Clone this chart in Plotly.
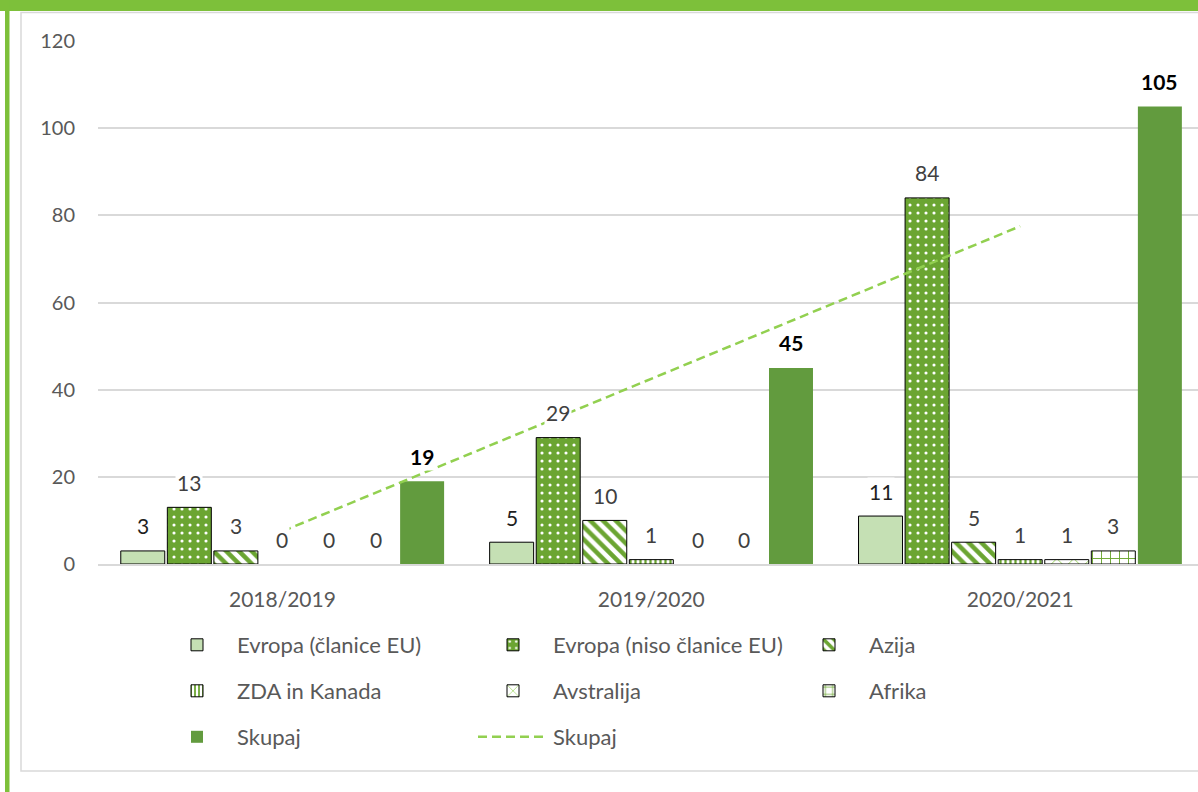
import plotly.graph_objects as go


seasons = ["2018/2019", "2019/2020", "2020/2021"]

evropa_eu = [3, 5, 11]
evropa_ne_eu = [13, 29, 84]
azija = [3, 10, 5]
zda_kanada = [0, 1, 1]
avstralija = [0, 0, 1]
afrika = [0, 0, 3]
skupaj = [19, 45, 105]
# linearni trend (odčitan s slike)
skupaj_trend = [7.5, 42.5, 77.5]

names = [
    "Evropa (članice EU)",
    "Evropa (niso članice EU)",
    "Azija",
    "ZDA in Kanada",
    "Avstralija",
    "Afrika",
    "Skupaj",
]

W, H = 1198, 792
ML, MR, MT, MB = 98, 0, 41, 228
PW = W - ML - MR
PH = H - MT - MB
FONT = "Lato"
GREEN = "#6BA532"
DARK = "#629B3E"
LIGHT = "#C5E0B4"
GRID = "#D9D9D9"
TEXT = "#595959"


def px2x(px):
    return (px - ML) / PW


def px2y(py):
    return (H - MB - py) / PH


def bar_style(shape, fg, bg, size=8, solidity=0.5, line=True):
    marker = dict(color=bg)
    if shape:
        marker["pattern"] = dict(shape=shape, fgcolor=fg, bgcolor=bg,
                                 size=size, solidity=solidity, fillmode="replace")
    marker["line"] = dict(color="black", width=1 if line else 0)
    return marker


series = [
    (evropa_eu, bar_style("", None, LIGHT), "legend"),
    (evropa_ne_eu, bar_style(".", "white", GREEN, size=8, solidity=0.12), "legend"),
    (azija, bar_style("\\", GREEN, "white", size=9, solidity=0.5), "legend"),
    (zda_kanada, bar_style("|", GREEN, "white", size=5, solidity=0.45), "legend2"),
    (avstralija, bar_style("x", "#92D050", "white", size=12, solidity=0.15), "legend2"),
    (afrika, bar_style("+", GREEN, "white", size=9, solidity=0.2), "legend2"),
    (skupaj, bar_style("", None, DARK, line=False), "legend3"),
]

fig = go.Figure()

for (vals, marker, leg), name in zip(series, names):
    fig.add_trace(go.Bar(
        x=seasons,
        # empty bars are not drawn (no outline at 0)
        y=[v if v else None for v in vals],
        name=name,
        marker=marker,
        legend=leg,
    ))

fig.add_trace(go.Scatter(
    x=seasons,
    y=skupaj_trend,
    mode="lines",
    name="Skupaj",
    line=dict(color="#92D050", width=2.5, dash="9px,5px"),
    legend="legend3",
))

# data labels above bars
x_range = [-0.5, 2.482]
cat_px = PW / (x_range[1] - x_range[0])
bargap = 0.1165
slot = cat_px * (1 - bargap) / len(names)
for i, ((vals, _, _), name) in enumerate(zip(series, names)):
    is_total = name == "Skupaj"
    for season, v in zip(seasons, vals):
        fig.add_annotation(
            x=season,
            y=v,
            text=f"<b>{v}</b>" if is_total else str(v),
            showarrow=False,
            xshift=(i - 3) * slot,
            yshift=25,
            bgcolor="white",
            font=dict(family=FONT, size=21,
                      color="black" if is_total else ("#1F1F1F" if i == 0 else "#404040")),
        )

# frame and green border
fig.add_shape(type="rect", xref="paper", yref="paper",
              x0=px2x(21), x1=px2x(1210), y0=px2y(771), y1=px2y(12.5),
              line=dict(color=GRID, width=1.5), fillcolor="rgba(0,0,0,0)", layer="below")
fig.add_shape(type="rect", xref="paper", yref="paper",
              x0=px2x(-2), x1=px2x(1210), y0=px2y(11), y1=px2y(-2),
              line=dict(width=0), fillcolor="#7DC03A")
fig.add_shape(type="rect", xref="paper", yref="paper",
              x0=px2x(5), x1=px2x(9.5), y0=px2y(795), y1=px2y(0),
              line=dict(width=0), fillcolor="#7DC03A")

legend_common = dict(
    orientation="h",
    x=px2x(157),
    xanchor="left",
    yanchor="middle",
    entrywidth=231,
    entrywidthmode="pixels",
    itemwidth=70,
    font=dict(family=FONT, size=22, color=TEXT),
    bgcolor="rgba(0,0,0,0)",
    traceorder="normal",
)

fig.update_layout(
    width=W,
    height=H,
    margin=dict(l=ML, r=MR, t=MT, b=MB),
    paper_bgcolor="white",
    plot_bgcolor="white",
    barmode="group",
    bargap=bargap,
    bargroupgap=0.055,
    font=dict(family=FONT, size=20, color=TEXT),
    xaxis=dict(
        range=x_range,
        showline=True,
        linecolor=GRID,
        linewidth=1.5,
        showgrid=False,
        ticks="",
        tickfont=dict(family=FONT, size=21, color=TEXT),
        ticklabelstandoff=16,
    ),
    yaxis=dict(
        range=[0, 120],
        dtick=20,
        showgrid=True,
        gridcolor=GRID,
        gridwidth=1.5,
        zeroline=False,
        showline=False,
        ticks="",
        tickfont=dict(family=FONT, size=20, color=TEXT),
        ticklabelstandoff=22,
    ),
    legend=dict(legend_common, y=px2y(645)),
    legend2=dict(legend_common, y=px2y(691)),
    legend3=dict(legend_common, y=px2y(737)),
)

fig.write_html(
    "out.html",
    config={"displayModeBar": False},
    post_script="document.body.style.margin = '0';",
)
